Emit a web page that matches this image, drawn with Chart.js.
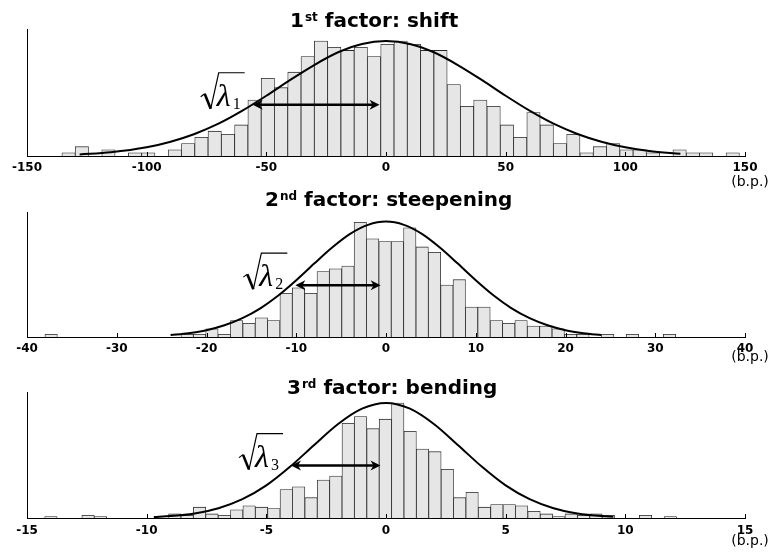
<!DOCTYPE html>
<html lang="en">
<head>
<meta charset="UTF-8">
<title>Factor histograms</title>
<script src="https://cdn.jsdelivr.net/npm/chart.js"></script>
<style>
  body { margin: 0; background: #fff; }
  #wrap { position: relative; width: 776px; height: 558px; }
  canvas { position: absolute; left: 0; }
</style>
</head>
<body>
<div id="wrap">
  <canvas id="shiftChart" width="776" height="190" style="top:0px"></canvas>
  <canvas id="steepChart" width="776" height="185" style="top:180px"></canvas>
  <canvas id="bendChart" width="776" height="193" style="top:365px"></canvas>
</div>
<script>
// 1st factor: shift (b.p.)
var shiftBinStart = -135.4, shiftBinWidth = 5.55;
var shiftCounts = [1,3,0,2,0,1,1,0,2,4,6,8,7,10,18,25,22,27,32,37,35,34,35,32,36,37,36,34,34,23,16,18,16,10,6,14,10,4,7,1,3,4,2,2,1,0,2,1,1,0,1];
var shiftCurveX = [-128,-115,-100,-90,-80,-70,-60,-50,-40,-30,-20,-10,0,10,20,30,40,50,60,70,80,90,100,110,123];
var shiftCurveY = [0.5,1.2,2.8,4.6,7.1,10.4,14.6,19.4,24.5,29.3,33.4,36.1,37,36.1,33.4,29.3,24.5,19.4,14.6,10.4,7.1,4.6,2.8,1.6,0.7];
var shiftArrow = [-55.7, -2.7];
var shiftArrowLevel = 16.5;
var shiftTicks = [-150, 150, 50];

// 2nd factor: steepening
var steepBinStart = -38.0, steepBinWidth = 1.378;
var steepCounts = [1,0,0,0,0,0,0,0,0,0,0,1,1,3,1,6,5,7,6,16,18,16,24,25,26,42,36,35,35,40,33,31,19,21,11,11,6,5,6,4,4,3,1,1,0,1,0,1,0,0,1];
var steepCurveX = [-24,-22,-20,-18,-16,-14,-12,-10,-8,-6,-4,-2,0,2,4,6,8,10,12,14,16,18,20,22,24];
var steepCurveY = [0.7,1.4,2.5,4.3,6.9,10.5,15.2,20.8,26.9,32.8,37.8,41.1,42.3,41.1,37.8,32.8,26.9,20.8,15.2,10.5,6.9,4.3,2.5,1.4,0.7];
var steepArrow = [-10.1, -0.6];
var steepArrowLevel = 19;
var steepTicks = [-40, 40, 10];

// 3rd factor: bending
var bendBinStart = -14.26, bendBinWidth = 0.5176;
var bendCounts = [1,0,0,2,1,0,0,0,0,0,3,2,8,3,2,6,9,8,7,21,23,15,28,31,70,75,66,73,85,64,51,49,36,15,19,8,10,10,9,5,3,1,3,2,3,2,0,0,2,0,1,0,0,0,0,0];
var bendCurveX = [-9.7,-9,-8,-7,-6,-5,-4,-3,-2,-1,0,1,2,3,4,5,6,7,8,9,9.5];
var bendCurveY = [0.7,1.4,3.4,7.2,13.9,24.1,38.0,54.0,69.5,80.8,85,80.8,69.5,54.0,38.0,24.1,13.9,7.2,3.4,1.4,0.9];
var bendArrow = [-3.97, -0.23];
var bendArrowLevel = 38.7;
var bendTicks = [-15, 15, 5];

function drawTitle(ctx, parts, left, baseline) {
    var x = left;
    ctx.fillStyle = '#000';
    ctx.textAlign = 'left';
    ctx.textBaseline = 'alphabetic';
    ctx.font = 'bold 20px "DejaVu Sans"';
    ctx.fillText(parts[0], x, baseline);
    x += ctx.measureText(parts[0]).width + 1;
    ctx.font = 'bold 12px "DejaVu Sans"';
    ctx.fillText(parts[1], x, baseline - 6);
    x += ctx.measureText(parts[1]).width;
    ctx.font = 'bold 20px "DejaVu Sans"';
    ctx.fillText(parts[2], x, baseline);
}

// square root of lambda, box about 45 x 38 px
function drawRoot(ctx, L, T, digit) {
    ctx.save();
    ctx.strokeStyle = '#000';
    ctx.fillStyle = '#000';
    ctx.lineWidth = 1.2;
    ctx.beginPath();
    ctx.moveTo(L, T + 25);
    ctx.lineTo(L + 4, T + 22);
    ctx.stroke();
    ctx.lineWidth = 2.6;
    ctx.beginPath();
    ctx.moveTo(L + 4, T + 22);
    ctx.lineTo(L + 10, T + 37);
    ctx.stroke();
    ctx.lineWidth = 1.2;
    ctx.beginPath();
    ctx.moveTo(L + 10, T + 37);
    ctx.lineTo(L + 18, T + 1);
    ctx.lineTo(L + 44, T + 1);
    ctx.stroke();
    ctx.textAlign = 'left';
    ctx.textBaseline = 'alphabetic';
    ctx.font = 'italic 32px "Liberation Serif"';
    ctx.fillText('\u03bb', L + 16, T + 34);
    ctx.font = '16px "Liberation Serif"';
    ctx.fillText(digit, L + 32, T + 37);
    ctx.restore();
}

function drawArrow(ctx, x0, x1, y) {
    ctx.save();
    ctx.strokeStyle = '#000';
    ctx.fillStyle = '#000';
    ctx.lineWidth = 2.5;
    ctx.beginPath();
    ctx.moveTo(x0 + 6, y);
    ctx.lineTo(x1 - 6, y);
    ctx.stroke();
    ctx.beginPath();
    ctx.moveTo(x0, y);
    ctx.lineTo(x0 + 10, y - 5);
    ctx.lineTo(x0 + 7, y);
    ctx.lineTo(x0 + 10, y + 5);
    ctx.closePath();
    ctx.fill();
    ctx.beginPath();
    ctx.moveTo(x1, y);
    ctx.lineTo(x1 - 10, y - 5);
    ctx.lineTo(x1 - 7, y);
    ctx.lineTo(x1 - 10, y + 5);
    ctx.closePath();
    ctx.fill();
    ctx.restore();
}

function makeChart(id, p) {
    var bars = p.counts.map(function (c, i) {
        return { x: p.binStart + p.binWidth * (i + 0.5), y: c };
    });
    var curve = p.curveX.map(function (x, i) {
        return { x: x, y: p.curveY[i] };
    });

    var decor = {
        id: 'decor',
        afterDatasetsDraw: function (chart) {
            var ctx = chart.ctx, xs = chart.scales.x, ys = chart.scales.y;
            var x0 = xs.getPixelForValue(p.arrow[0]);
            var x1 = xs.getPixelForValue(p.arrow[1]);
            var y = ys.getPixelForValue(p.arrowLevel);
            drawArrow(ctx, x0, x1, y);
            drawRoot(ctx, x0 - 52, y - 33, p.digit);
        },
        afterDraw: function (chart) {
            var ctx = chart.ctx, xs = chart.scales.x, area = chart.chartArea;
            ctx.save();
            // small inward tick marks
            ctx.strokeStyle = '#000';
            ctx.lineWidth = 1;
            xs.ticks.forEach(function (t) {
                var px = Math.round(xs.getPixelForValue(t.value)) + 0.5;
                ctx.beginPath();
                ctx.moveTo(px, area.bottom);
                ctx.lineTo(px, area.bottom - 4);
                ctx.stroke();
            });
            drawTitle(ctx, p.title, p.titleLeft, p.titleBase);
            ctx.font = '14px "DejaVu Sans"';
            ctx.textAlign = 'center';
            ctx.textBaseline = 'middle';
            ctx.fillText('(b.p.)', xs.right + 5, area.bottom + p.unitOffset);
            ctx.restore();
        }
    };

    return new Chart(document.getElementById(id), {
        type: 'bar',
        data: {
            datasets: [{
                type: 'line',
                data: curve,
                borderColor: '#000',
                borderWidth: 2,
                pointRadius: 0,
                cubicInterpolationMode: 'monotone',
                fill: false,
                order: 0
            }, {
                type: 'bar',
                data: bars,
                backgroundColor: '#e6e6e6',
                borderColor: '#262626',
                borderWidth: 0.8,
                barPercentage: 1,
                categoryPercentage: 1,
                order: 1
            }]
        },
        options: {
            responsive: false,
            animation: false,
            layout: { padding: { left: 27, right: 31, top: p.padTop, bottom: 0 } },
            plugins: {
                legend: { display: false },
                tooltip: { enabled: false },
                title: { display: false }
            },
            scales: {
                x: {
                    type: 'linear',
                    min: p.ticks[0],
                    max: p.ticks[1],
                    offset: false,
                    grid: { display: false, drawTicks: false, offset: false },
                    border: { display: true, color: '#000', width: 1 },
                    ticks: {
                        stepSize: p.ticks[2],
                        autoSkip: false,
                        maxRotation: 0,
                        padding: p.tickPad,
                        color: '#000',
                        font: { family: 'DejaVu Sans', weight: 'bold', size: 12 },
                        callback: function (v) { return String(v); }
                    },
                    afterFit: function (s) { s.height = p.axisHeight; }
                },
                y: {
                    min: 0,
                    max: p.yMax,
                    grid: { display: false, drawTicks: false },
                    ticks: { display: false },
                    border: { display: true, color: '#000', width: 1 },
                    afterFit: function (s) { s.width = 0; }
                }
            }
        },
        plugins: [decor]
    });
}

makeChart('shiftChart', {
    binStart: shiftBinStart, binWidth: shiftBinWidth, counts: shiftCounts,
    curveX: shiftCurveX, curveY: shiftCurveY,
    arrow: shiftArrow, arrowLevel: shiftArrowLevel, ticks: shiftTicks,
    digit: '1', title: ['1', 'st', ' factor: shift'], titleLeft: 290, titleBase: 27,
    padTop: 29, axisHeight: 34, yMax: 40.9, tickPad: 5, unitOffset: 26
});
makeChart('steepChart', {
    binStart: steepBinStart, binWidth: steepBinWidth, counts: steepCounts,
    curveX: steepCurveX, curveY: steepCurveY,
    arrow: steepArrow, arrowLevel: steepArrowLevel, ticks: steepTicks,
    digit: '2', title: ['2', 'nd', ' factor: steepening'], titleLeft: 265, titleBase: 26,
    padTop: 32, axisHeight: 28, yMax: 45.8, tickPad: 5, unitOffset: 20
});
makeChart('bendChart', {
    binStart: bendBinStart, binWidth: bendBinWidth, counts: bendCounts,
    curveX: bendCurveX, curveY: bendCurveY,
    arrow: bendArrow, arrowLevel: bendArrowLevel, ticks: bendTicks,
    digit: '3', title: ['3', 'rd', ' factor: bending'], titleLeft: 287, titleBase: 29,
    padTop: 27, axisHeight: 40, yMax: 93.1, tickPad: 6, unitOffset: 23
});
</script>
</body>
</html>
